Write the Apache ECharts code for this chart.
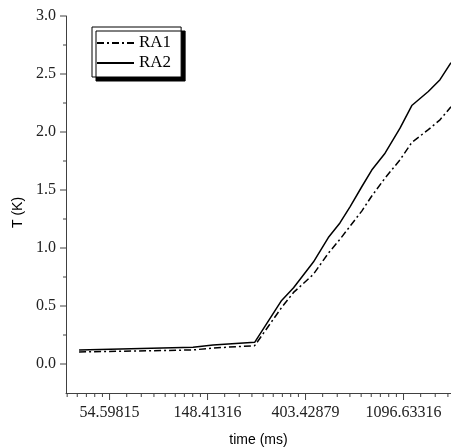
<!DOCTYPE html>
<html lang="en">
<head>
  <meta charset="UTF-8">
  <title>T vs time</title>
  <script src="https://cdn.jsdelivr.net/npm/echarts@6.0.0/dist/echarts.min.js"></script>
  <style>
    html, body { margin: 0; padding: 0; background: #fff; }
    #chart { width: 451px; height: 447px; }
  </style>
</head>
<body>
<div id="chart"></div>
<script>
  // time axis (ms), log base e
  var times = [40, 128, 157, 240, 316, 357, 437, 509, 573, 635, 716, 793, 908, 1058, 1193, 1412, 1591, 1780];
  var ra1 = [0.104, 0.121, 0.138, 0.158, 0.487, 0.617, 0.773, 0.955, 1.075, 1.188, 1.318, 1.448, 1.603, 1.76, 1.91, 2.02, 2.105, 2.217];
  var ra2 = [0.121, 0.144, 0.164, 0.187, 0.548, 0.657, 0.879, 1.09, 1.216, 1.355, 1.528, 1.672, 1.817, 2.033, 2.228, 2.349, 2.451, 2.598];

  // tick positions
  var xMajorTicks = [54.59815, 148.41316, 403.42879, 1096.63316];
  var xMinorTicks = [35.42, 39.26, 43.09, 46.93, 50.76,
                     65.02, 75.45, 85.87, 96.29, 106.72, 117.14, 127.57, 137.99,
                     176.75, 205.08, 233.42, 261.75, 290.09, 318.42, 346.76, 375.09,
                     480.45, 557.47, 634.50, 711.52, 788.54, 865.57, 942.59, 1019.61,
                     1306.0, 1515.37, 1724.74];
  var yMajorTicks = [0, 0.5, 1.0, 1.5, 2.0, 2.5, 3.0];
  var yMinorTicks = [0.25, 0.75, 1.25, 1.75, 2.25, 2.75];

  var xMin = 35, xMax = 1780, yMin = -0.25, yMax = 3.0;
  var axisColor = '#404040';

  var chart = echarts.init(document.getElementById('chart'));

  function pairs(xs, ys) {
    return xs.map(function (x, i) { return [x, ys[i]]; });
  }

  var xTickData = xMajorTicks.map(function (v) { return [v, yMin, 7]; })
    .concat(xMinorTicks.map(function (v) { return [v, yMin, 4]; }));
  var yTickData = yMajorTicks.map(function (v) { return [xMin, v, 6]; })
    .concat(yMinorTicks.map(function (v) { return [xMin, v, 3]; }));

  var option = {
    animation: false,
    grid: { left: 66, right: 0, top: 16, bottom: 54, containLabel: false, outerBoundsMode: 'none' },
    legend: {
      data: ['RA1', 'RA2'],
      orient: 'vertical',
      left: 92,
      top: 27,
      padding: [7, 10, 5, 4],
      itemGap: 2,
      itemWidth: 37,
      itemHeight: 14,
      backgroundColor: '#fff',
      borderColor: '#000',
      borderWidth: 1,
      borderRadius: 0,
      shadowColor: '#000',
      shadowBlur: 0,
      shadowOffsetX: 4,
      shadowOffsetY: 4,
      itemStyle: { opacity: 0 },
      textStyle: { fontFamily: 'Liberation Serif', fontSize: 17, color: '#000', lineHeight: 18 }
    },
    xAxis: {
      type: 'log',
      logBase: Math.E,
      min: xMin,
      max: xMax,
      name: 'time (ms)',
      nameLocation: 'middle',
      nameGap: 40,
      nameTextStyle: { fontFamily: 'Liberation Sans', fontSize: 14, color: '#000' },
      axisLine: { show: true, onZero: false, lineStyle: { color: axisColor, width: 1 } },
      axisTick: { show: false },
      splitLine: { show: false },
      axisLabel: {
        showMinLabel: false,
        showMaxLabel: false,
        margin: 12,
        fontFamily: 'Liberation Serif',
        fontSize: 16,
        color: '#222',
        formatter: function (v) { return v.toFixed(5); }
      }
    },
    yAxis: {
      type: 'value',
      min: yMin,
      max: yMax,
      splitNumber: 6,
      name: 'T (K)',
      nameLocation: 'middle',
      nameGap: 38,
      nameTextStyle: { fontFamily: 'Liberation Sans', fontSize: 14, color: '#000', padding: [0, 16, 0, 0] },
      axisLine: { show: true, lineStyle: { color: axisColor, width: 1 } },
      axisTick: { show: false },
      splitLine: { show: false },
      axisLabel: {
        showMinLabel: false,
        margin: 10,
        fontFamily: 'Liberation Serif',
        fontSize: 16,
        color: '#222',
        formatter: function (v) { return v.toFixed(1); }
      }
    },
    series: [
      {
        name: 'RA1',
        type: 'line',
        data: pairs(times, ra1),
        symbol: 'none',
        lineStyle: { color: '#000', width: 1.5, type: [7, 3, 2, 3] },
        itemStyle: { color: '#000' }
      },
      {
        name: 'RA2',
        type: 'line',
        data: pairs(times, ra2),
        symbol: 'none',
        lineStyle: { color: '#000', width: 1.5, type: 'solid' },
        itemStyle: { color: '#000' }
      },
      {
        type: 'custom',
        silent: true,
        clip: false,
        data: xTickData,
        renderItem: function (params, api) {
          var p = api.coord([api.value(0), api.value(1)]);
          var len = api.value(2);
          return {
            type: 'line',
            shape: { x1: p[0], y1: p[1], x2: p[0], y2: p[1] + len },
            style: { stroke: axisColor, lineWidth: 1 }
          };
        }
      },
      {
        type: 'custom',
        silent: true,
        clip: false,
        data: yTickData,
        renderItem: function (params, api) {
          var p = api.coord([api.value(0), api.value(1)]);
          var len = api.value(2);
          return {
            type: 'line',
            shape: { x1: p[0] - len, y1: p[1], x2: p[0], y2: p[1] },
            style: { stroke: axisColor, lineWidth: 1 }
          };
        }
      }
    ]
  };

  chart.setOption(option);
</script>
</body>
</html>
